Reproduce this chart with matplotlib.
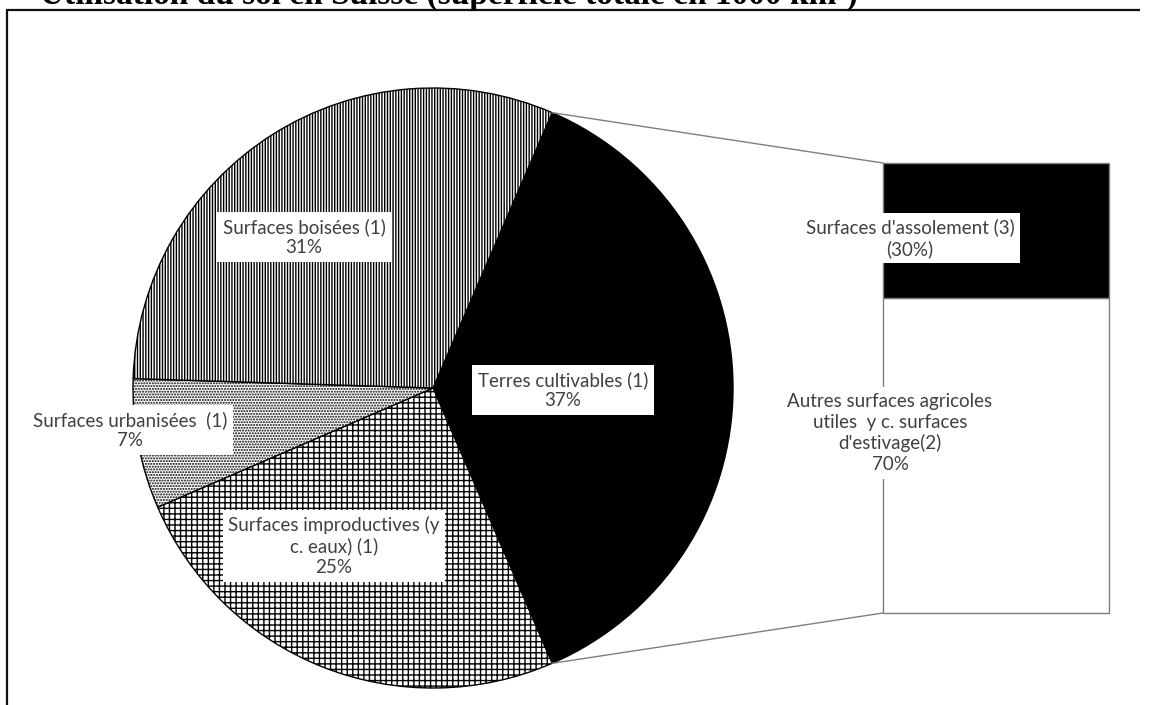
import numpy as np
import matplotlib
matplotlib.use("Agg")
import matplotlib.pyplot as plt
from matplotlib.transforms import Bbox

plt.rcParams["savefig.bbox"] = "standard"

# ---- data ----
pie_labels = ["Terres cultivables (1)", "Surfaces improductives (y\nc. eaux) (1)",
              "Surfaces urbanisées  (1)", "Surfaces boisées (1)"]
pie_values = [37, 25, 7, 31]
pie_hatches = ["", "+++", "......", "||||||"]
pie_colors = ["black", "white", "white", "white"]

bar_labels = ["Autres surfaces agricoles\nutiles  y c. surfaces\nd'estivage(2)", "Surfaces d'assolement (3)"]
bar_values = [70, 30]
bar_pct_text = ["70%", "(30%)"]
bar_colors = ["white", "black"]

title = "Utilisation du sol en Suisse (superficie totale en 1000 km²)"

W, H = 1149, 705
fig = plt.figure(figsize=(W / 100, H / 100), dpi=100)
ax = fig.add_axes([0, 0, 1, 1])

cx, cy, R = 433, H - 388, 300
start = 180 * pie_values[0] / 100
wedges, _ = ax.pie(pie_values, colors=pie_colors, startangle=start, counterclock=False,
                   center=(cx, cy), radius=R,
                   wedgeprops=dict(edgecolor="black", linewidth=1.0))
for w, h in zip(wedges, pie_hatches):
    w.set_hatch(h)

# bar of pie
bar_x, bar_w = 996, 226
bar_bottom, scale = H - 613, 4.5
bottoms = np.cumsum([0] + bar_values[:-1])
rects = ax.bar([bar_x] * len(bar_values), [v * scale for v in bar_values], width=bar_w,
               bottom=[bar_bottom + b * scale for b in bottoms], color=bar_colors,
               edgecolor="#7f7f7f", linewidth=1.0, zorder=2)
bar_top = bar_bottom + sum(bar_values) * scale
xl = bar_x - bar_w / 2

# connector lines from pie edges of the first wedge
th1 = np.deg2rad(start)
th2 = np.deg2rad(start - 360 * pie_values[0] / 100)
ax.plot([cx + R * np.cos(th1), xl], [cy + R * np.sin(th1), bar_top], color="#7f7f7f", lw=1.0)
ax.plot([cx + R * np.cos(th2), xl], [cy + R * np.sin(th2), bar_bottom], color="#7f7f7f", lw=1.0)

# labels
font = dict(family=["Lato", "DejaVu Sans"], fontsize=13.5, color="#404040",
            ha="center", va="center", linespacing=1.25, zorder=5)
box = dict(boxstyle="square,pad=0.3", fc="white", ec="none")
pie_label_pos = [(563, 390), (334, 546), (130, 430), (304, 237)]
for lab, v, (x, y) in zip(pie_labels, pie_values, pie_label_pos):
    ax.text(x, H - y, f"{lab}\n{v}%", bbox=box, **font)

bar_label_pos = [(890, 433), (910, 238)]
for lab, t, (x, y) in zip(bar_labels, bar_pct_text, bar_label_pos):
    ax.text(x, H - y, f"{lab}\n{t}", bbox=box, **font)

# frame lines
ax.plot([6, 1140], [H - 10, H - 10], color="#111111", lw=1.6, solid_capstyle="butt")
ax.plot([7, 7], [H - 10, 0], color="#111111", lw=1.6, solid_capstyle="butt")

# clipped title (only its lower edge shows, as in the reference)
ax.text(40, H - 4, title, family="Liberation Serif", fontweight="bold", fontsize=24,
        ha="left", va="baseline", color="black", clip_on=True)

ax.set_xlim(0, W)
ax.set_ylim(0, H)
ax.set_aspect("equal")
ax.axis("off")
fig.savefig("out.png", dpi=100, bbox_inches=Bbox.from_bounds(0, 0, W / 100, H / 100))
